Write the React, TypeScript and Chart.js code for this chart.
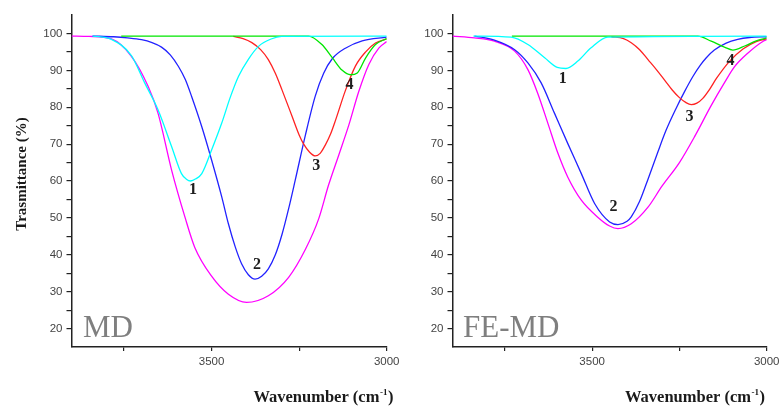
import React, { useEffect, useRef } from "react";
import { Chart, registerables } from "chart.js";

Chart.register(...registerables);

type Pt = [number, number];

// ---------- Data (wavenumber cm-1, transmittance %) ----------
const MD_SUM: Pt[] = [[3900, 99.3], [3850, 99.2], [3786, 98.5], [3729, 93.8], [3681, 85.6], [3653, 78.4], [3614, 62.9], [3576, 50.2], [3548, 42], [3500, 34.2], [3452, 29.3], [3400, 27.1], [3338, 28.9], [3280, 33.9], [3232, 41.5], [3194, 49.8], [3166, 58.9], [3137, 67], [3108, 75.2], [3080, 84.2], [3051, 91.6], [3022, 96.1], [3000, 97.8]];
const MD_P1: Pt[] = [[3840, 99.3], [3786, 98.4], [3729, 94], [3691, 86.6], [3653, 79.3], [3614, 69.3], [3586, 62], [3572, 60.5], [3560, 60], [3545, 60.6], [3528, 62], [3500, 68.4], [3471, 75.7], [3447, 82.6], [3423, 88.4], [3395, 93], [3366, 96.5], [3330, 98.5], [3300, 99.2], [3000, 99.3]];
const MD_P2: Pt[] = [[3840, 99.3], [3780, 99.1], [3740, 98.8], [3700, 98.3], [3670, 97.5], [3643, 96.3], [3618, 94.2], [3595, 91.1], [3575, 87.5], [3557, 82.9], [3528, 74.7], [3500, 65.7], [3471, 55.7], [3452, 48.4], [3432, 42], [3414, 37.5], [3395, 34.6], [3376, 33.4], [3357, 34.2], [3338, 36.2], [3318, 40], [3299, 45.5], [3280, 52.5], [3261, 60.3], [3232, 72.5], [3204, 83], [3180, 89.2], [3155, 93.2], [3118, 96], [3070, 98], [3000, 99]];
const MD_P3: Pt[] = [[3438, 99.2], [3410, 98.6], [3385, 97.5], [3360, 95.6], [3338, 92.9], [3318, 89.2], [3299, 84.7], [3270, 77.5], [3250, 72.5], [3237, 70], [3220, 67.8], [3204, 66.8], [3190, 67.5], [3175, 69.8], [3160, 72.8], [3146, 76.5], [3118, 84.5], [3089, 91.2], [3060, 95], [3032, 97.4], [3000, 98.5]];
const MD_P4: Pt[] = [[3758, 99.3], [3223, 99.3], [3185, 97], [3156, 93.5], [3127, 90], [3103, 88.8], [3084, 89.3], [3060, 93.4], [3032, 97], [3000, 98.6]];

const FE_SUM: Pt[] = [[3900, 99.3], [3837, 98.8], [3780, 97.9], [3722, 95.2], [3684, 90.2], [3656, 83.8], [3627, 75.7], [3598, 67.5], [3570, 61.1], [3531, 54.8], [3484, 50.2], [3450, 47.8], [3426, 47.1], [3388, 48.4], [3340, 52.9], [3300, 58.6], [3250, 65], [3205, 72.3], [3160, 80.3], [3120, 86.8], [3092, 91], [3056, 94.5], [3010, 97.9], [3000, 98.3]];
const FE_P1: Pt[] = [[3840, 99.3], [3732, 99], [3684, 97], [3636, 93.4], [3600, 90.8], [3575, 90.5], [3541, 92.5], [3503, 96.1], [3455, 99], [3000, 99.3]];
const FE_P2: Pt[] = [[3837, 99.3], [3780, 98.2], [3722, 95.6], [3684, 92], [3646, 86.6], [3608, 78.4], [3570, 70.2], [3531, 62], [3493, 53.9], [3450, 48.9], [3426, 48.2], [3400, 49.1], [3388, 50.3], [3364, 54.5], [3340, 60.5], [3312, 67.8], [3288, 73.8], [3260, 79.6], [3235, 84.3], [3211, 88.4], [3190, 91.4], [3173, 93.4], [3150, 95.5], [3116, 97.4], [3083, 98.4], [3049, 98.9], [3000, 99.1]];
const FE_P3: Pt[] = [[3445, 99.1], [3410, 98.6], [3388, 97.5], [3364, 95.6], [3340, 92.9], [3316, 90.2], [3293, 87.4], [3270, 84.6], [3250, 82.6], [3232, 81.3], [3216, 80.7], [3200, 81.1], [3183, 82.4], [3164, 84.8], [3144, 87.8], [3106, 92.5], [3068, 95.8], [3030, 97.8], [3000, 98.5]];
const FE_P4: Pt[] = [[3730, 99.3], [3197, 99.3], [3159, 97.9], [3121, 96.3], [3097, 95.5], [3063, 96.6], [3030, 98], [3000, 98.8]];

// peak number labels: position in data coordinates
const PEAK_NAMES = ["1", "2", "3", "4"];
const MD_LABEL_POS: Pt[] = [[3553, 57.5], [3370, 37.3], [3201, 64], [3106, 86.1]];
const FE_LABEL_POS: Pt[] = [[3584, 87.8], [3439, 52.9], [3221, 77.3], [3104, 92.6]];

// ticks
const X_TICKS = [3000, 3250, 3500, 3750];
const X_LABELLED = [3000, 3500];
const Y_TICKS = [20, 25, 30, 35, 40, 45, 50, 55, 60, 65, 70, 75, 80, 85, 90, 95, 100];
const Y_LABELLED = [20, 30, 40, 50, 60, 70, 80, 90, 100];

const SERIF = "'Liberation Serif', 'DejaVu Serif', serif";
const SANS = "'Liberation Sans', Arial, sans-serif";

const COLORS = {
  p1: "#00ffff",
  p2: "#2222ff",
  p3: "#ff2222",
  p4: "#00e600",
  sum: "#ff00ff",
};

type PanelCfg = {
  name: string;
  sum: Pt[];
  p1: Pt[];
  p2: Pt[];
  p3: Pt[];
  p4: Pt[];
  labelPos: Pt[];
  showYTitle: boolean;
  width: number;
  yScaleWidth: number;
  padRight: number;
  titleDx: number;
  nameDx: number;
};

const toXY = (arr: Pt[]) => arr.map(([x, y]) => ({ x, y }));

function makeTextPlugin(cfg: PanelCfg) {
  return {
    id: "panelText" + cfg.name,
    afterDraw(chart: any) {
      const ctx: CanvasRenderingContext2D = chart.ctx;
      const xs = chart.scales.x;
      const ys = chart.scales.y;
      const area = chart.chartArea;
      ctx.save();
      // peak numbers
      ctx.font = `bold 16px ${SERIF}`;
      ctx.fillStyle = "#1e1e1e";
      ctx.textAlign = "center";
      ctx.textBaseline = "middle";
      cfg.labelPos.forEach(([wx, wy], i) => {
        ctx.fillText(PEAK_NAMES[i], xs.getPixelForValue(wx), ys.getPixelForValue(wy));
      });
      // panel name
      ctx.font = `31px ${SERIF}`;
      ctx.fillStyle = "#7f7f7f";
      ctx.textAlign = "left";
      ctx.textBaseline = "alphabetic";
      ctx.fillText(cfg.name, area.left + cfg.nameDx, area.bottom - 10);
      // x title
      const main = "Wavenumber (cm";
      const sup = "-1";
      const close = ")";
      ctx.fillStyle = "#1a1a1a";
      ctx.font = `bold 16.5px ${SERIF}`;
      const wMain = ctx.measureText(main).width;
      const wClose = ctx.measureText(close).width;
      ctx.font = `bold 9px ${SERIF}`;
      const wSup = ctx.measureText(sup).width;
      const endX = area.right + cfg.titleDx;
      let x = endX - (wMain + wSup + wClose + 1);
      const base = area.bottom + 55;
      ctx.font = `bold 16.5px ${SERIF}`;
      ctx.fillText(main, x, base);
      x += wMain + 0.5;
      ctx.font = `bold 9px ${SERIF}`;
      ctx.fillText(sup, x, base - 7);
      x += wSup + 0.5;
      ctx.font = `bold 16.5px ${SERIF}`;
      ctx.fillText(close, x, base);
      // y title
      if (cfg.showYTitle) {
        ctx.save();
        ctx.translate(22, 174);
        ctx.rotate(-Math.PI / 2);
        ctx.font = `bold 15px ${SERIF}`;
        ctx.textAlign = "center";
        ctx.textBaseline = "middle";
        ctx.fillText("Trasmittance (%)", 0, 0);
        ctx.restore();
      }
      ctx.restore();
    },
  };
}

function Panel({ cfg, left }: { cfg: PanelCfg; left: number }) {
  const ref = useRef<HTMLCanvasElement | null>(null);
  useEffect(() => {
    if (!ref.current) return;
    const ds = (data: Pt[], color: string) => ({
      data: toXY(data),
      borderColor: color,
      backgroundColor: color,
      borderWidth: 1.3,
      pointRadius: 0,
      fill: false,
      cubicInterpolationMode: "monotone" as const,
    });
    const axisColor = "#222";
    const chart = new Chart(ref.current, {
      type: "line",
      data: {
        datasets: [
          ds(cfg.p1, COLORS.p1),
          ds(cfg.p4, COLORS.p4),
          ds(cfg.p3, COLORS.p3),
          ds(cfg.p2, COLORS.p2),
          ds(cfg.sum, COLORS.sum),
        ],
      },
      options: {
        animation: false,
        responsive: false,
        devicePixelRatio: 1,
        parsing: false as any,
        layout: { padding: { left: 0, right: cfg.padRight, top: 15, bottom: 0 } },
        plugins: { legend: { display: false }, tooltip: { enabled: false } },
        scales: {
          x: {
            type: "linear",
            min: 3000,
            max: 3900,
            reverse: true,
            afterBuildTicks: (s: any) => {
              s.ticks = X_TICKS.map((v) => ({ value: v }));
            },
            afterFit: (s: any) => {
              s.height = 60;
              s.paddingLeft = 0;
              s.paddingRight = 0;
            },
            grid: { display: true, drawOnChartArea: false, drawTicks: true, tickLength: 4, color: axisColor, lineWidth: 1.2 },
            border: { display: true, color: axisColor, width: 1.5 },
            ticks: {
              autoSkip: false,
              maxRotation: 0,
              padding: 4,
              color: "#444",
              font: { family: SANS, size: 11.5 },
              callback: (v: any) => (X_LABELLED.includes(Number(v)) ? String(v) : ""),
            },
          },
          y: {
            type: "linear",
            min: 15,
            max: 105,
            afterBuildTicks: (s: any) => {
              s.ticks = Y_TICKS.map((v) => ({ value: v }));
            },
            afterFit: (s: any) => {
              s.width = cfg.yScaleWidth;
              s.paddingTop = 0;
              s.paddingBottom = 0;
            },
            grid: { display: true, drawOnChartArea: false, drawTicks: true, tickLength: 5, color: axisColor, lineWidth: 1.2 },
            border: { display: true, color: axisColor, width: 1.5 },
            ticks: {
              autoSkip: false,
              padding: 4,
              color: "#444",
              font: { family: SANS, size: 11.5 },
              callback: (v: any) => (Y_LABELLED.includes(Number(v)) ? String(v) : ""),
            },
          },
        },
      },
      plugins: [makeTextPlugin(cfg)],
    });
    return () => chart.destroy();
  }, [cfg]);
  return (
    <canvas
      ref={ref}
      width={cfg.width}
      height={407}
      style={{ position: "absolute", left, top: 0, width: cfg.width, height: 407 }}
    />
  );
}

const MD_CFG: PanelCfg = {
  name: "MD",
  sum: MD_SUM,
  p1: MD_P1,
  p2: MD_P2,
  p3: MD_P3,
  p4: MD_P4,
  labelPos: MD_LABEL_POS,
  showYTitle: true,
  width: 405,
  yScaleWidth: 71.5,
  padRight: 18.3,
  titleDx: 6.7,
  nameDx: 11.5,
};

const FE_CFG: PanelCfg = {
  name: "FE-MD",
  sum: FE_SUM,
  p1: FE_P1,
  p2: FE_P2,
  p3: FE_P3,
  p4: FE_P4,
  labelPos: FE_LABEL_POS,
  showYTitle: false,
  width: 391,
  yScaleWidth: 62.5,
  padRight: 14.3,
  titleDx: -1.7,
  nameDx: 10.5,
};

export default function App() {
  return (
    <div style={{ position: "fixed", left: 0, top: 0, width: 781, height: 407, background: "#fff", overflow: "hidden" }}>
      <Panel cfg={MD_CFG} left={0} />
      <Panel cfg={FE_CFG} left={390} />
    </div>
  );
}
